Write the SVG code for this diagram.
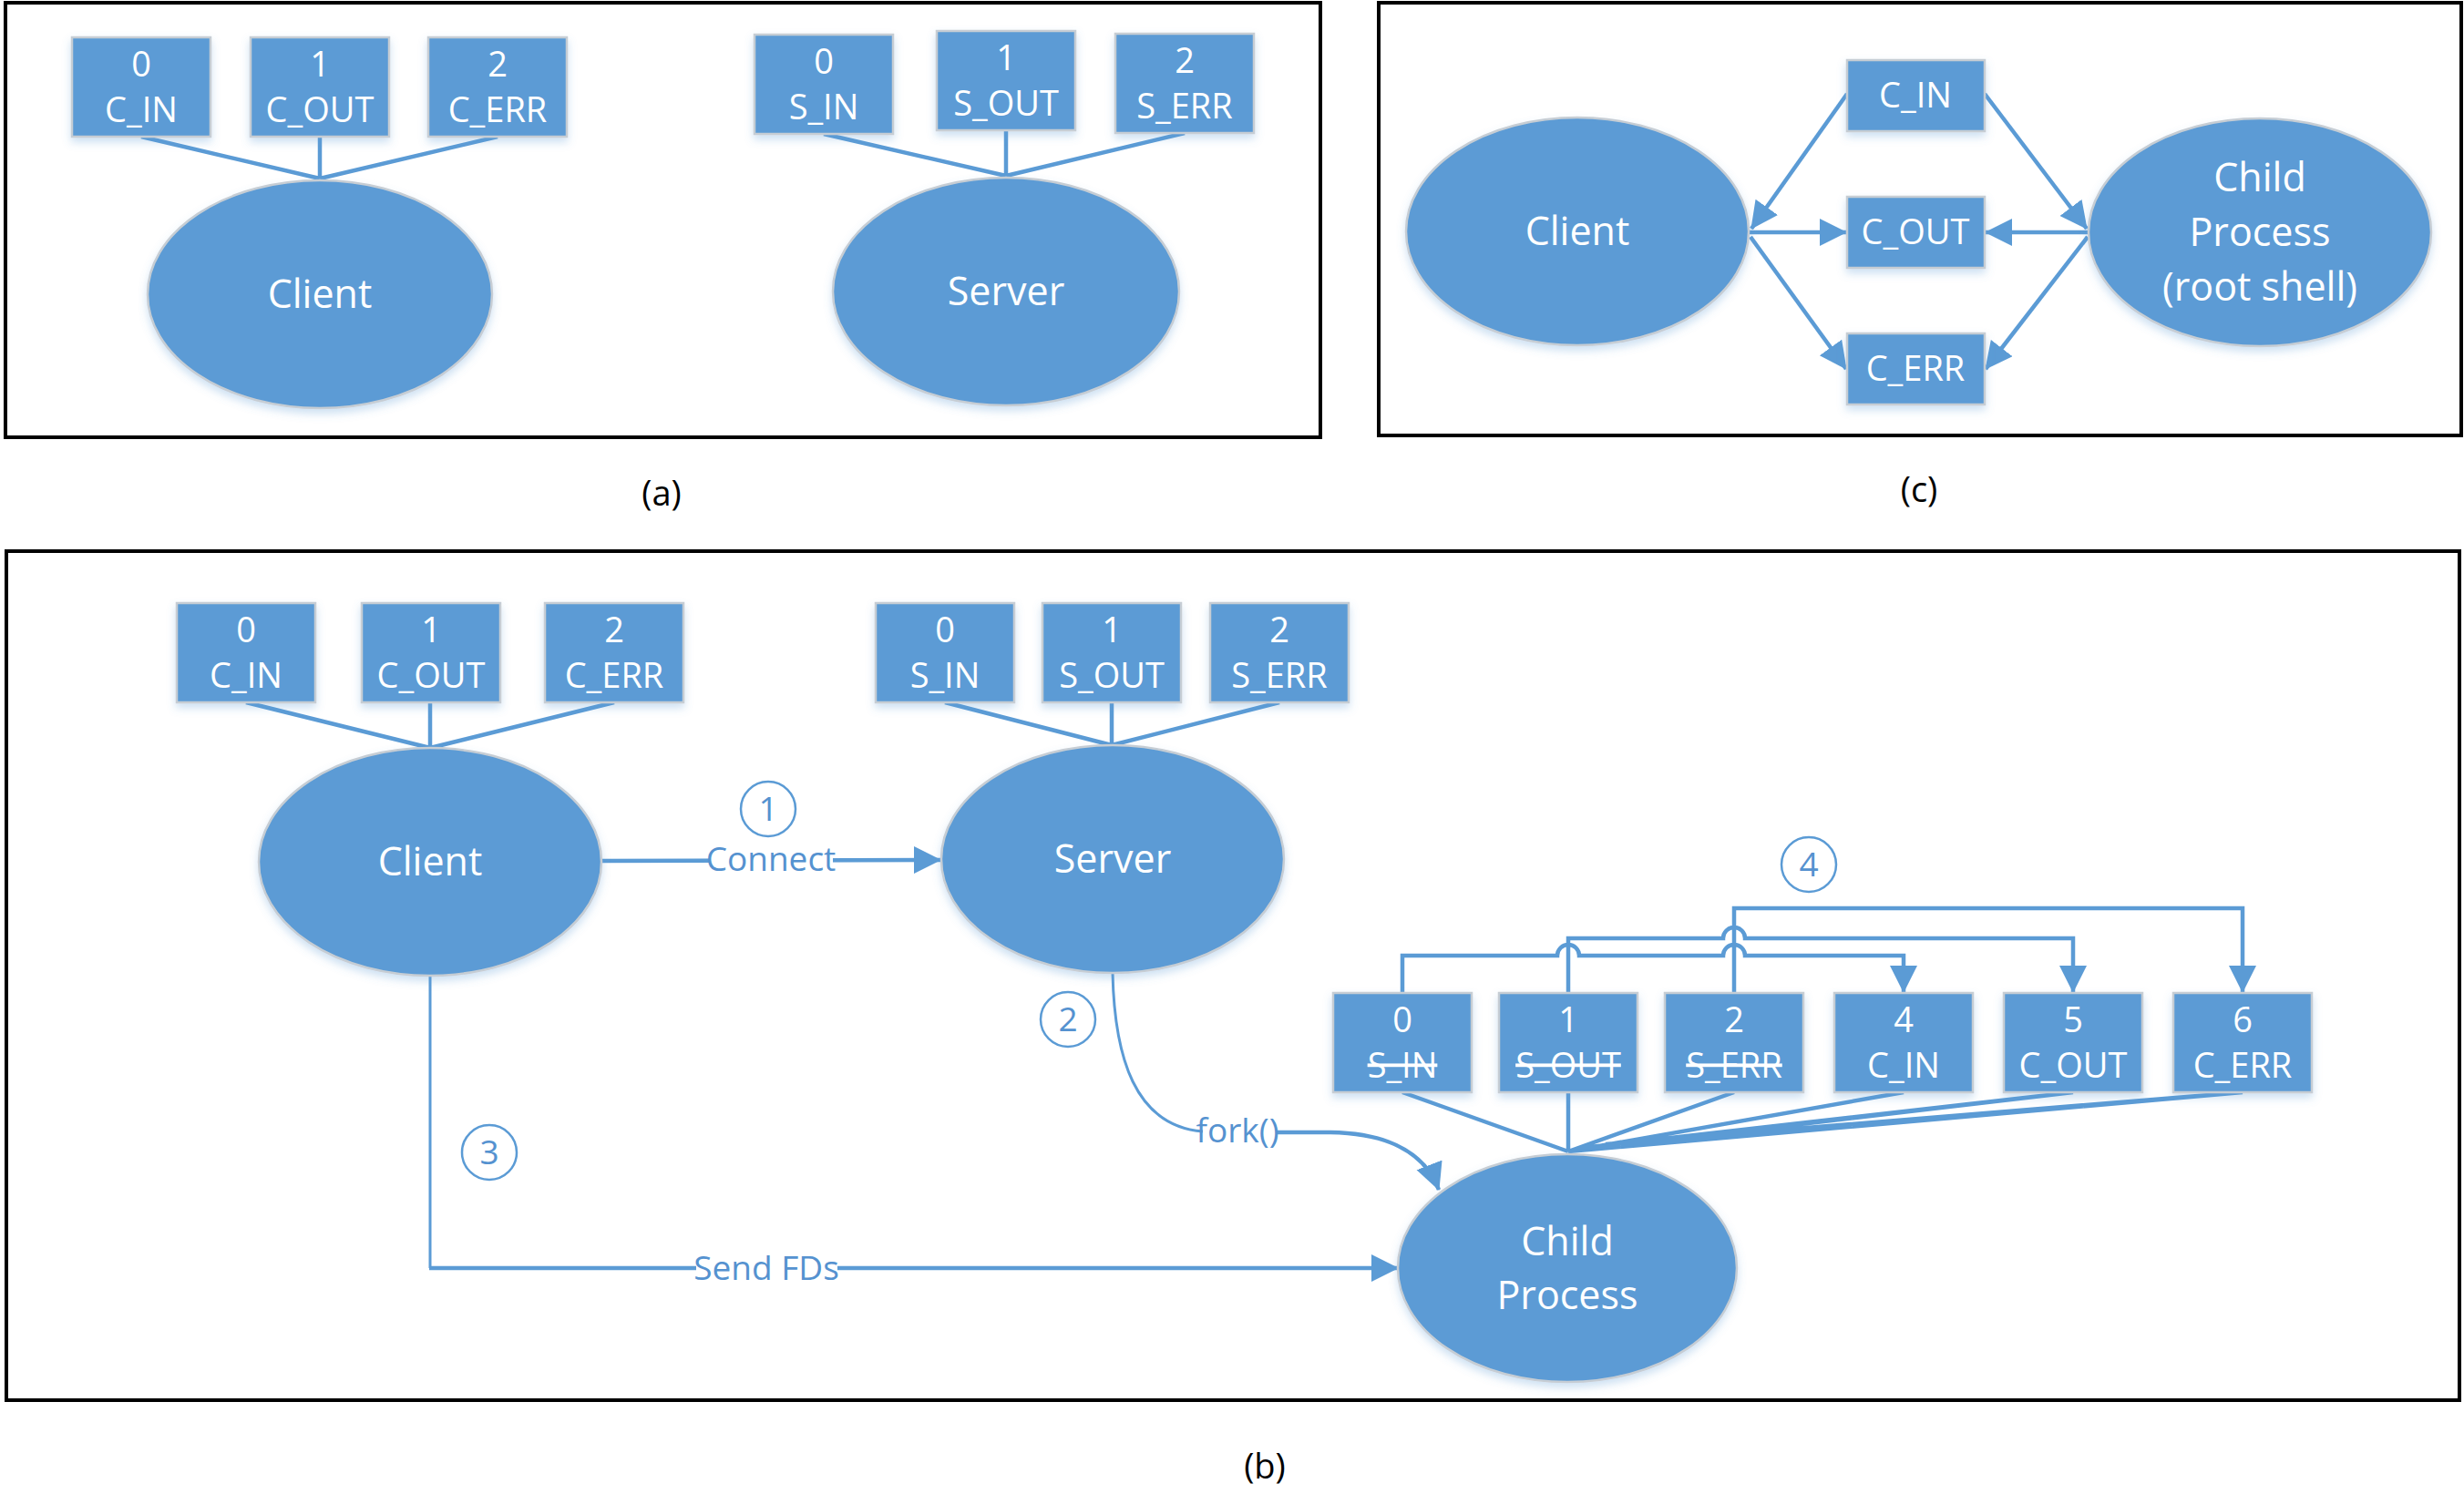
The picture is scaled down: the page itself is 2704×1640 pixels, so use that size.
<svg xmlns="http://www.w3.org/2000/svg" width="2704" height="1640" viewBox="0 0 2704 1640">
  <style>
    .frame { fill: none; stroke: #000; stroke-width: 4; }
    .node { fill: #5B9BD5; stroke: #c6cdd4; stroke-width: 2.5; filter: url(#soft); }
    .t { font-family: "Open Sans", "Noto Sans", "DejaVu Sans", sans-serif; fill: #fff; text-anchor: middle; }
    .fd { font-size: 38px; }
    .big { font-size: 43px; }
    .lbl { font-family: "Open Sans", "Noto Sans", "DejaVu Sans", sans-serif; fill: #5592d0; font-size: 37px; text-anchor: middle; }
    .cap { font-family: "Open Sans", "Noto Sans", "DejaVu Sans", sans-serif; fill: #000; font-size: 38px; text-anchor: middle; }
    .x { text-decoration: line-through; }
    .ln { fill: none; stroke: #5B9BD5; stroke-width: 4.5; }
    .thin { fill: none; stroke: #5B9BD5; stroke-width: 3; }
    .arr { fill: none; stroke: #5B9BD5; stroke-width: 4.5; marker-end: url(#head); }
    .num { fill: none; stroke: #5B9BD5; stroke-width: 2.5; }
    .bg { fill: #fff; }
  </style>
  <defs>
    <filter id="soft" x="-20%" y="-20%" width="140%" height="150%">
      <feDropShadow dx="0" dy="5" stdDeviation="5" flood-color="#5B9BD5" flood-opacity="0.3"/>
    </filter>
    <marker id="head" markerUnits="userSpaceOnUse" markerWidth="32" markerHeight="32" refX="29" refY="15" orient="auto">
      <path d="M0,0 L30,15 L0,30 z" fill="#5B9BD5"/>
    </marker>
  </defs>

  <rect width="2704" height="1640" fill="#fff"/>

  <!-- panel frames -->
  <rect class="frame" x="6" y="3" width="1443" height="477"/>
  <rect class="frame" x="1513" y="3" width="1188" height="475"/>
  <rect class="frame" x="7" y="605" width="2692" height="932"/>

  <!-- captions -->
  <text class="cap" x="726" y="555">(a)</text>
  <text class="cap" x="2106" y="551">(c)</text>
  <text class="cap" x="1388" y="1623">(b)</text>

  <!-- connectors -->
  <g id="connectors">
    <!-- (a) descriptor fans -->
    <path class="ln" d="M155,150 L351,196 M351,150 L351,196 M546,150 L351,196"/>
    <path class="ln" d="M904,147 L1104,193 M1104,143 L1104,193 M1300,146 L1104,193"/>

    <!-- (c) shared descriptors -->
    <path class="arr" d="M2027,103 L1922,251"/>
    <path class="arr" d="M2178,103 L2290,251"/>
    <path class="arr" d="M1920,255 L2026,255"/>
    <path class="arr" d="M2292,255 L2179,255"/>
    <path class="arr" d="M1921,260 L2026,405"/>
    <path class="arr" d="M2291,260 L2179,405"/>

    <!-- (b) descriptor fans -->
    <path class="ln" d="M270,771 L472,821 M472,771 L472,821 M674,771 L472,821"/>
    <path class="ln" d="M1037,771 L1220,818 M1220,771 L1220,818 M1404,771 L1220,818"/>
    <path class="ln" d="M1539,1199 L1721,1264 M1721,1199 L1721,1264 M1903,1199 L1721,1264 M2089,1199 L1721,1264 M2275,1199 L1721,1264 M2275,1199 L1745,1259 M2461,1199 L1721,1264 M2461,1199 L1762,1256"/>

    <!-- step 1: connect -->
    <path class="arr" d="M660,945 L1032,944"/>
    <rect class="bg" x="778" y="922" width="136" height="44"/>
    <text class="lbl" x="846" y="956">Connect</text>

    <!-- step 2: fork -->
    <path class="thin" d="M1221,1068 C1223,1160 1245,1236 1320,1242"/>
    <path class="arr" d="M1400,1243 L1460,1243 C1520,1244 1562,1262 1579,1306"/>
    <text class="lbl" x="1358" y="1254">fork()</text>

    <!-- step 3: send descriptors -->
    <path class="thin" d="M472,1071 L472,1392"/>
    <path class="arr" d="M471,1392 L1534,1392"/>
    <rect class="bg" x="764" y="1370" width="155" height="44"/>
    <text class="lbl" x="841" y="1405">Send FDs</text>

    <!-- step 4: dup descriptors, with line hops -->
    <path class="arr" d="M1539,1090 V1049 H1709 a12,12 0 0 1 24,0 H1891 a12,12 0 0 1 24,0 H2089 V1089"/>
    <path class="arr" d="M1721,1090 V1030 H1891 a12,12 0 0 1 24,0 H2275 V1089"/>
    <path class="arr" d="M1903,1090 V997 H2461 V1089"/>

    <!-- step numbers -->
    <circle class="num" cx="843" cy="888" r="30"/>
    <text class="lbl" x="843" y="901">1</text>
    <circle class="num" cx="1172" cy="1119" r="30"/>
    <text class="lbl" x="1172" y="1132">2</text>
    <circle class="num" cx="537" cy="1265" r="30"/>
    <text class="lbl" x="537" y="1278">3</text>
    <circle class="num" cx="1985" cy="949" r="30"/>
    <text class="lbl" x="1985" y="962">4</text>
  </g>

  <!-- (a) client and its descriptors -->
  <g id="a-client">
    <ellipse class="node" cx="351" cy="323" rx="189" ry="125"/>
    <text class="t big" x="351" y="338">Client</text>
  </g>
  <g id="a-c-in"><rect class="node" x="79" y="41" width="152" height="109"/><text class="t fd" x="155" y="84">0</text><text class="t fd" x="155" y="134">C_IN</text></g>
  <g id="a-c-out"><rect class="node" x="275" y="41" width="152" height="109"/><text class="t fd" x="351" y="84">1</text><text class="t fd" x="351" y="134">C_OUT</text></g>
  <g id="a-c-err"><rect class="node" x="470" y="41" width="152" height="109"/><text class="t fd" x="546" y="84">2</text><text class="t fd" x="546" y="134">C_ERR</text></g>

  <!-- (a) server and its descriptors -->
  <g id="a-server">
    <ellipse class="node" cx="1104" cy="320" rx="190" ry="125"/>
    <text class="t big" x="1104" y="335">Server</text>
  </g>
  <g id="a-s-in"><rect class="node" x="828" y="38" width="152" height="109"/><text class="t fd" x="904" y="81">0</text><text class="t fd" x="904" y="131">S_IN</text></g>
  <g id="a-s-out"><rect class="node" x="1028" y="34" width="152" height="109"/><text class="t fd" x="1104" y="77">1</text><text class="t fd" x="1104" y="127">S_OUT</text></g>
  <g id="a-s-err"><rect class="node" x="1224" y="37" width="152" height="109"/><text class="t fd" x="1300" y="80">2</text><text class="t fd" x="1300" y="130">S_ERR</text></g>

  <!-- (c) client, shared descriptors, root shell -->
  <g id="c-client">
    <ellipse class="node" cx="1731" cy="254" rx="188" ry="125"/>
    <text class="t big" x="1731" y="269">Client</text>
  </g>
  <g id="c-c-in"><rect class="node" x="2027" y="66" width="151" height="78"/><text class="t fd" x="2102" y="118">C_IN</text></g>
  <g id="c-c-out"><rect class="node" x="2027" y="216" width="151" height="78"/><text class="t fd" x="2102" y="268">C_OUT</text></g>
  <g id="c-c-err"><rect class="node" x="2027" y="366" width="151" height="78"/><text class="t fd" x="2102" y="418">C_ERR</text></g>
  <g id="c-child">
    <ellipse class="node" cx="2480" cy="255" rx="188" ry="125"/>
    <text class="t big" x="2480" y="210">Child</text>
    <text class="t big" x="2480" y="270">Process</text>
    <text class="t big" x="2480" y="330">(root shell)</text>
  </g>

  <!-- (b) client -->
  <g id="b-client">
    <ellipse class="node" cx="472" cy="946" rx="188" ry="125"/>
    <text class="t big" x="472" y="961">Client</text>
  </g>
  <g id="b-c-in"><rect class="node" x="194" y="662" width="152" height="109"/><text class="t fd" x="270" y="705">0</text><text class="t fd" x="270" y="755">C_IN</text></g>
  <g id="b-c-out"><rect class="node" x="397" y="662" width="152" height="109"/><text class="t fd" x="473" y="705">1</text><text class="t fd" x="473" y="755">C_OUT</text></g>
  <g id="b-c-err"><rect class="node" x="598" y="662" width="152" height="109"/><text class="t fd" x="674" y="705">2</text><text class="t fd" x="674" y="755">C_ERR</text></g>

  <!-- (b) server -->
  <g id="b-server">
    <ellipse class="node" cx="1221" cy="943" rx="188" ry="125"/>
    <text class="t big" x="1221" y="958">Server</text>
  </g>
  <g id="b-s-in"><rect class="node" x="961" y="662" width="152" height="109"/><text class="t fd" x="1037" y="705">0</text><text class="t fd" x="1037" y="755">S_IN</text></g>
  <g id="b-s-out"><rect class="node" x="1144" y="662" width="152" height="109"/><text class="t fd" x="1220" y="705">1</text><text class="t fd" x="1220" y="755">S_OUT</text></g>
  <g id="b-s-err"><rect class="node" x="1328" y="662" width="152" height="109"/><text class="t fd" x="1404" y="705">2</text><text class="t fd" x="1404" y="755">S_ERR</text></g>

  <!-- (b) child process and its descriptor table -->
  <g id="b-child">
    <ellipse class="node" cx="1720" cy="1392" rx="186" ry="125"/>
    <text class="t big" x="1720" y="1378">Child</text>
    <text class="t big" x="1720" y="1437">Process</text>
  </g>
  <g id="b-fd0"><rect class="node" x="1463" y="1090" width="152" height="109"/><text class="t fd" x="1539" y="1133">0</text><text class="t fd x" x="1539" y="1183">S_IN</text></g>
  <g id="b-fd1"><rect class="node" x="1645" y="1090" width="152" height="109"/><text class="t fd" x="1721" y="1133">1</text><text class="t fd x" x="1721" y="1183">S_OUT</text></g>
  <g id="b-fd2"><rect class="node" x="1827" y="1090" width="152" height="109"/><text class="t fd" x="1903" y="1133">2</text><text class="t fd x" x="1903" y="1183">S_ERR</text></g>
  <g id="b-fd4"><rect class="node" x="2013" y="1090" width="152" height="109"/><text class="t fd" x="2089" y="1133">4</text><text class="t fd" x="2089" y="1183">C_IN</text></g>
  <g id="b-fd5"><rect class="node" x="2199" y="1090" width="152" height="109"/><text class="t fd" x="2275" y="1133">5</text><text class="t fd" x="2275" y="1183">C_OUT</text></g>
  <g id="b-fd6"><rect class="node" x="2385" y="1090" width="152" height="109"/><text class="t fd" x="2461" y="1133">6</text><text class="t fd" x="2461" y="1183">C_ERR</text></g>
</svg>
